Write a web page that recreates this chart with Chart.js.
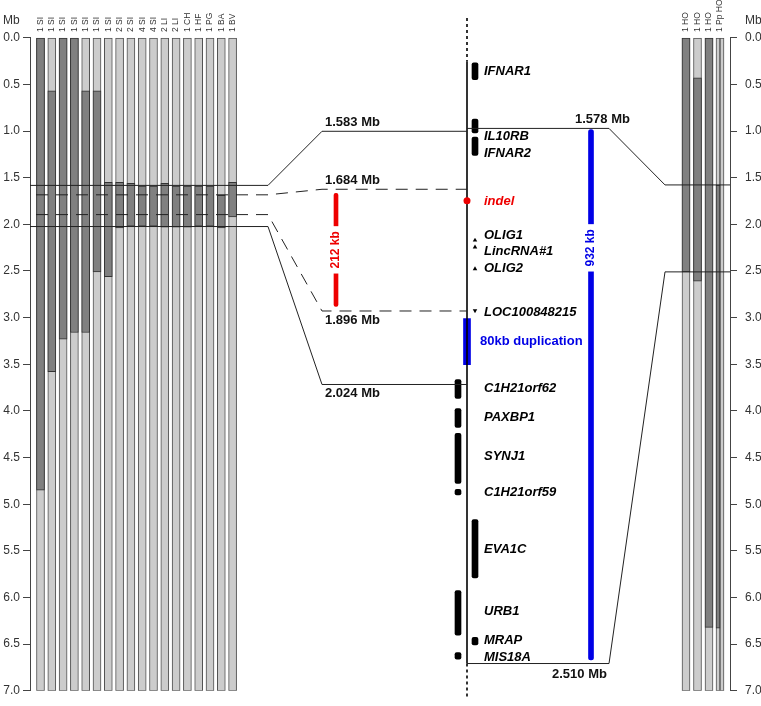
<!DOCTYPE html>
<html>
<head>
<meta charset="utf-8">
<script src="https://cdn.jsdelivr.net/npm/chart.js@4.4.1/dist/chart.umd.min.js"></script>
<style>
  body { margin: 0; background: #fff; }
  #wrap { width: 761px; height: 706px; }
</style>
</head>
<body>
<div id="wrap"><canvas id="chart" width="761" height="706"></canvas></div>
<script>
// haplotype columns, left panel (Mb, dark segment start / end, light elsewhere)
var leftLabels = ['1 SI', '1 SI', '1 SI', '1 SI', '1 SI', '1 SI', '1 SI', '2 SI', '2 SI', '4 SI', '4 SI', '2 LI', '2 LI', '1 CH', '1 HF', '1 PG', '1 BA', '1 BV'];
var leftDarkStart = [0, 0.57, 0, 0, 0.57, 0.57, 1.55, 1.55, 1.56, 1.59, 1.59, 1.56, 1.59, 1.59, 1.59, 1.59, 1.69, 1.55];
var leftDarkEnd = [4.85, 3.58, 3.23, 3.16, 3.16, 2.51, 2.56, 2.04, 2.02, 2.02, 2.02, 2.03, 2.03, 2.03, 2.02, 2.02, 2.04, 1.92];

// right panel
var rightLabels = ['1 HO', '1 HO', '1 HO', '1 Pp HO'];
var rightDarkStart = [0, 0.43, 0, 1.58, null];
var rightDarkEnd = [2.51, 2.61, 6.32, 6.33, null];

// breakpoints
var leftCutMb = [1.583, 1.684, 1.896, 2.024];
var leftCutDashed = [false, true, true, false];
var rightCutMb = [1.578, 2.510];

// genes on the middle map
var geneNames = ['IFNAR1', 'IL10RB', 'IFNAR2', 'OLIG1', 'LincRNA#1', 'OLIG2', 'LOC100848215', 'C1H21orf62', 'PAXBP1', 'SYNJ1', 'C1H21orf59', 'EVA1C', 'URB1', 'MRAP', 'MIS18A'];
var geneStart = [1.4636, 1.5618, 1.5933, 1.7703, 1.7823, 1.8185, 1.8918, 2.0154, 2.0660, 2.1091, 2.2066, 2.2595, 2.3830, 2.4645, 2.4908];
var geneEnd = [1.4929, 1.5859, 1.6250, 1.7755, 1.7875, 1.8271, 1.8987, 2.0481, 2.0988, 2.1963, 2.2164, 2.3611, 2.4605, 2.4778, 2.5024];
var geneSide = [1, 1, 1, 1, 1, 1, 1, -1, -1, -1, -1, 1, -1, 1, -1];
var geneLabelMb = [1.4791, 1.5928, 1.6221, 1.7651, 1.7927, 1.8220, 1.8977, 2.0315, 2.0815, 2.1487, 2.2124, 2.3114, 2.4199, 2.4699, 2.4992];
var smallGeneDir = { 'OLIG1': 0, 'LincRNA#1': 0, 'OLIG2': 0, 'LOC100848215': 180 };

var indelMb = 1.7038;
var dupSpan = [1.9093, 1.9896];
var redSpan = [1.691, 1.888];
var blueSpan = [1.580, 2.5036];
var blueTextMb = 1.786;
var mapSolidStart = 1.4619;

// middle map scale range
var MID_MIN = 1.42, MID_MAX = 2.5575;
function toLeft(mb) { return (mb - MID_MIN) / (MID_MAX - MID_MIN) * 7; }

// layout (x units = pixels right of left axis)
var X_CENTER = 437, X_PANEL_L = 238, X_MID_L = 292, X_MID_R = 579, X_PANEL_R = 635, X_AXIS_R = 700;
function leftX(i) { return 10.5 + 11.3 * i; }
var rightX = [656, 667.5, 679, 688, 692];
var FONT = "'Liberation Sans', Arial, sans-serif";
var DARK = '#808080', LIGHT = '#cccccc', EDGE = '#505050';

var datasets = [];

function columnSets(xs, starts, ends, thick) {
    datasets.push({
        type: 'bar', order: 20, yAxisID: 'y', barThickness: thick, grouped: false,
        data: xs.map(function (x) { return { x: x, y: [0, 7] }; }),
        backgroundColor: LIGHT, borderColor: EDGE, borderWidth: 1, borderSkipped: false
    });
    var dark = [];
    xs.forEach(function (x, i) {
        if (starts[i] !== null) dark.push({ x: x, y: [starts[i], ends[i]] });
    });
    datasets.push({
        type: 'bar', order: 19, yAxisID: 'y', barThickness: thick, grouped: false,
        data: dark, backgroundColor: DARK, borderColor: '#333', borderWidth: 1, borderSkipped: false
    });
}
columnSets(leftLabels.map(function (l, i) { return leftX(i); }), leftDarkStart, leftDarkEnd, 8);
columnSets(rightX.slice(0, 3), rightDarkStart.slice(0, 3), rightDarkEnd.slice(0, 3), 8);
columnSets(rightX.slice(3), rightDarkStart.slice(3), rightDarkEnd.slice(3), 4);

// connectors
leftCutMb.forEach(function (mb, i) {
    datasets.push({
        type: 'line', order: 2, yAxisID: 'y',
        data: [{ x: leftCutDashed[i] ? 6 : 0, y: mb }, { x: X_PANEL_L, y: mb },
               { x: X_MID_L, y: toLeft(mb) }, { x: X_CENTER, y: toLeft(mb) }],
        borderColor: '#222', borderWidth: 1, pointRadius: 0, tension: 0,
        borderDash: leftCutDashed[i] ? [12, 8] : []
    });
});
rightCutMb.forEach(function (mb) {
    datasets.push({
        type: 'line', order: 2, yAxisID: 'y',
        data: [{ x: X_CENTER, y: toLeft(mb) }, { x: X_MID_R, y: toLeft(mb) },
               { x: X_PANEL_R, y: mb }, { x: X_AXIS_R, y: mb }],
        borderColor: '#222', borderWidth: 1, pointRadius: 0, tension: 0
    });
});

// central map line
datasets.push({
    type: 'line', order: 3, yAxisID: 'y',
    data: [{ x: X_CENTER, y: toLeft(mapSolidStart) }, { x: X_CENTER, y: toLeft(rightCutMb[1]) }],
    borderColor: '#000', borderWidth: 1.6, pointRadius: 0
});
datasets.push({
    type: 'line', order: 3, yAxisID: 'y', clip: false,
    data: [{ x: X_CENTER, y: -0.21 }, { x: X_CENTER, y: toLeft(mapSolidStart) }],
    borderColor: '#000', borderWidth: 1.6, pointRadius: 0, borderDash: [3, 3]
});
datasets.push({
    type: 'line', order: 3, yAxisID: 'y', clip: false,
    data: [{ x: X_CENTER, y: toLeft(rightCutMb[1]) }, { x: X_CENTER, y: 7.09 }],
    borderColor: '#000', borderWidth: 1.6, pointRadius: 0, borderDash: [3, 3]
});

// genes
var geneBars = [], geneTri = [], geneRot = [];
geneNames.forEach(function (g, i) {
    var x = X_CENTER + (geneSide[i] > 0 ? 8 : -9);
    if (g in smallGeneDir) {
        geneTri.push({ x: x, y: (geneStart[i] + geneEnd[i]) / 2 });
        geneRot.push(smallGeneDir[g]);
    } else {
        geneBars.push({ x: x, y: [geneStart[i], geneEnd[i]] });
    }
});
datasets.push({
    type: 'bar', order: 5, yAxisID: 'ym', barThickness: 6, grouped: false,
    data: geneBars, backgroundColor: '#000', borderRadius: 2, borderSkipped: false
});
datasets.push({
    type: 'scatter', order: 5, yAxisID: 'ym', data: geneTri,
    pointStyle: 'triangle', pointRadius: 2.6, rotation: geneRot,
    backgroundColor: '#000', borderColor: '#000', borderWidth: 0
});

// duplication, spans, indel
datasets.push({
    type: 'bar', order: 4, yAxisID: 'ym', barThickness: 7, grouped: false,
    data: [{ x: X_CENTER, y: dupSpan }], backgroundColor: '#0000e6'
});
datasets.push({
    type: 'bar', order: 4, yAxisID: 'ym', barThickness: 4, grouped: false,
    data: [{ x: 306, y: redSpan }], backgroundColor: '#ee0000', borderRadius: 2, borderSkipped: false
});
datasets.push({
    type: 'bar', order: 4, yAxisID: 'ym', barThickness: 5, grouped: false,
    data: [{ x: 561, y: blueSpan }], backgroundColor: '#0000e6', borderRadius: 2.5, borderSkipped: false
});
datasets.push({
    type: 'scatter', order: 1, yAxisID: 'ym', data: [{ x: X_CENTER, y: indelMb }],
    pointRadius: 3.5, backgroundColor: '#ee0000', borderWidth: 0
});

function axisY(pos, width) {
    return {
        type: 'linear', position: pos, min: 0, max: 7, reverse: true,
        ticks: {
            stepSize: 0.5, padding: pos === 'left' ? 3 : 8, color: '#333',
            font: { size: 12, family: FONT },
            callback: function (v) { return v.toFixed(1); }
        },
        grid: { drawOnChartArea: false, tickLength: 7, color: '#444' },
        border: { color: '#444' },
        afterFit: function (s) { s.width = width; }
    };
}

var textPlugin = {
    id: 'texts',
    afterDatasetsDraw: function (chart) {
        var ctx = chart.ctx, sx = chart.scales.x, sm = chart.scales.ym;
        ctx.save();

        // column labels
        ctx.font = '8.5px ' + FONT;
        ctx.fillStyle = '#333';
        ctx.textAlign = 'left';
        ctx.textBaseline = 'middle';
        function vlabel(t, x) {
            ctx.save();
            ctx.translate(sx.getPixelForValue(x), 32);
            ctx.rotate(-Math.PI / 2);
            ctx.fillText(t, 0, 0);
            ctx.restore();
        }
        leftLabels.forEach(function (t, i) { vlabel(t, leftX(i)); });
        rightLabels.forEach(function (t, i) {
            vlabel(t, i < 3 ? rightX[i] : (rightX[3] + rightX[4]) / 2);
        });

        ctx.font = '12px ' + FONT;
        ctx.textAlign = 'left';
        ctx.fillText('Mb', 3, 21);
        ctx.fillText('Mb', 745, 21);

        // breakpoint labels
        ctx.font = 'bold 13px ' + FONT;
        ctx.fillStyle = '#111';
        leftCutMb.forEach(function (mb, i) {
            var y = sm.getPixelForValue(mb);
            ctx.fillText(mb.toFixed(3) + ' Mb', sx.getPixelForValue(X_MID_L) + 3, i < 2 ? y - 9 : y + 9);
        });
        ctx.fillText(rightCutMb[0].toFixed(3) + ' Mb', 575, sm.getPixelForValue(rightCutMb[0]) - 9);
        ctx.fillText(rightCutMb[1].toFixed(3) + ' Mb', 552, sm.getPixelForValue(rightCutMb[1]) + 11);

        // gene labels
        ctx.font = 'italic bold 13px ' + FONT;
        ctx.fillStyle = '#000';
        var lx = sx.getPixelForValue(X_CENTER) + 17;
        geneNames.forEach(function (g, i) {
            ctx.fillText(g, lx, sm.getPixelForValue(geneLabelMb[i]));
        });
        ctx.fillStyle = '#ee0000';
        ctx.fillText('indel', lx, sm.getPixelForValue(indelMb) + 1);

        ctx.font = 'bold 13px ' + FONT;
        ctx.fillStyle = '#0000e6';
        ctx.fillText('80kb duplication', lx - 4, sm.getPixelForValue((dupSpan[0] + dupSpan[1]) / 2));

        // span labels
        function spanText(t, x, mb, color) {
            ctx.save();
            ctx.translate(sx.getPixelForValue(x), sm.getPixelForValue(mb));
            ctx.rotate(-Math.PI / 2);
            ctx.font = 'bold 12px ' + FONT;
            var w = ctx.measureText(t).width;
            ctx.fillStyle = '#fff';
            ctx.fillRect(-w / 2 - 5, -7, w + 10, 14);
            ctx.fillStyle = color;
            ctx.textAlign = 'center';
            ctx.fillText(t, 0, 0);
            ctx.restore();
        }
        spanText('212 kb', 306, (redSpan[0] + redSpan[1]) / 2, '#ee0000');
        spanText('932 kb', 561, blueTextMb, '#0000e6');

        ctx.restore();
    }
};

new Chart(document.getElementById('chart'), {
    type: 'bar',
    data: { datasets: datasets },
    options: {
        responsive: false,
        animation: false,
        layout: { padding: { top: 37.7, bottom: 8, left: 0, right: 0 } },
        plugins: { legend: { display: false }, tooltip: { enabled: false } },
        scales: {
            x: { type: 'linear', min: 0, max: 700, offset: false, display: false },
            y: axisY('left', 30),
            y2: axisY('right', 31),
            ym: { type: 'linear', min: MID_MIN, max: MID_MAX, reverse: true, display: false }
        }
    },
    plugins: [textPlugin]
});
</script>
</body>
</html>
